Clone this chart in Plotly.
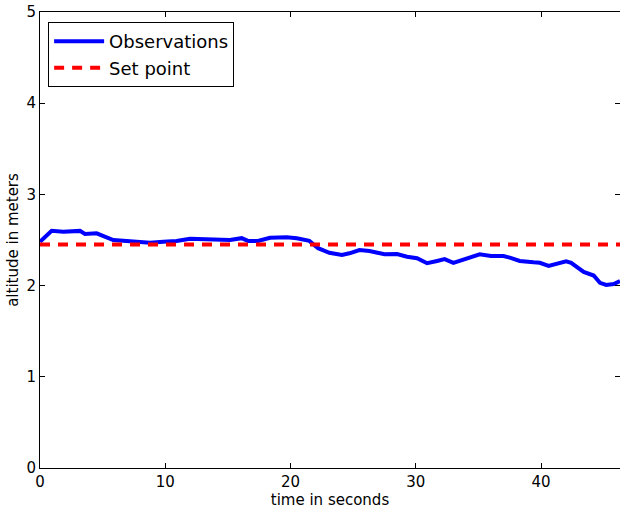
"""Altitude observations versus set point."""

import plotly.graph_objects as go

time_s = [0.0, 0.93, 1.86, 3.19, 3.59, 4.52, 5.85, 7.18, 8.38, 8.78, 9.84, 10.9,
          11.97, 13.83, 15.16, 16.1, 16.6, 17.4, 18.36, 19.7, 20.5, 21.5, 22.2,
          23.1, 24.1, 24.7, 25.5, 26.3, 27.5, 28.5, 29.3, 30.1, 30.9, 31.7, 32.3,
          33.0, 33.7, 34.3, 35.1, 36.0, 37.0, 37.5, 38.3, 39.4, 39.9, 40.6, 41.2,
          42.0, 42.4, 43.4, 44.2, 44.7, 45.2, 45.8, 46.3]
altitude_m = [2.48, 2.60, 2.59, 2.60, 2.566, 2.573, 2.50, 2.49, 2.48, 2.47, 2.48,
              2.49, 2.514, 2.51, 2.50, 2.52, 2.49, 2.49, 2.525, 2.53, 2.52, 2.49,
              2.41, 2.36, 2.335, 2.354, 2.39, 2.38, 2.343, 2.346, 2.317, 2.30, 2.245,
              2.27, 2.29, 2.25, 2.28, 2.317, 2.343, 2.325, 2.325, 2.306, 2.27, 2.255,
              2.25, 2.215, 2.237, 2.266, 2.25, 2.15, 2.11, 2.03, 2.007, 2.017, 2.05]
set_point = 2.45

x_max = 46.3
font = dict(family="DejaVu Sans", size=15, color="#000000")

fig = go.Figure()

fig.add_trace(go.Scatter(
    x=time_s,
    y=altitude_m,
    name="Observations",
    mode="lines",
    line=dict(color="#0000ff", width=4),
))

fig.add_trace(go.Scatter(
    x=[0, x_max],
    y=[set_point, set_point],
    name="Set point",
    mode="lines",
    line=dict(color="#ff0000", width=4, dash="10px,8px"),
))

axis_style = dict(
    showline=True,
    linecolor="#000000",
    linewidth=1,
    mirror="allticks",
    ticks="inside",
    ticklen=5,
    tickcolor="#000000",
    showgrid=False,
    zeroline=False,
    tickfont=font,
    ticklabeloverflow="allow",
)

fig.update_xaxes(range=[0, x_max], tickvals=[0, 10, 20, 30, 40],
                 title=dict(text="time in seconds", font=font, standoff=2),
                 **axis_style)
fig.update_yaxes(range=[0, 5], tickvals=[0, 1, 2, 3, 4, 5],
                 title=dict(text="altitude in meters", font=font, standoff=4),
                 **axis_style)

fig.update_layout(
    width=620,
    height=512,
    margin=dict(l=40, r=0, t=12, b=44, autoexpand=False),
    plot_bgcolor="#ffffff",
    paper_bgcolor="#ffffff",
    font=font,
    showlegend=True,
    legend=dict(
        x=0.014,
        y=0.978,
        xanchor="left",
        yanchor="top",
        bgcolor="#ffffff",
        bordercolor="#000000",
        borderwidth=1,
        itemwidth=50,
        font=dict(family="DejaVu Sans", size=18, color="#000000"),
    ),
)

# drop the default body margin so the figure fills the window exactly
fig.write_html(
    "out.html",
    config={"displayModeBar": False},
    post_script="document.body.style.margin='0';document.body.style.overflow='hidden';",
)
